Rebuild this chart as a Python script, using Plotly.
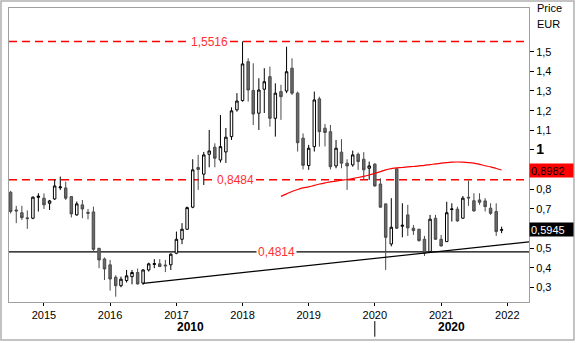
import plotly.graph_objects as go
import pandas as pd

# ---- data (monthly candles, EUR) ----
months = pd.date_range("2014-07-01", "2021-12-01", freq="MS")

opens = [0.785,0.695,0.681,0.655,0.653,0.759,0.755,0.729,0.751,0.808,0.807,0.763,
         0.670,0.721,0.683,0.685,0.500,0.446,0.416,0.353,0.310,0.336,0.356,0.377,
         0.323,0.390,0.418,0.421,0.415,0.416,0.475,0.546,0.597,0.709,0.911,0.877,
         0.978,1.014,0.949,0.990,1.068,1.204,1.251,1.449,1.303,1.187,1.309,1.373,
         1.161,1.297,1.300,1.416,1.289,1.060,0.921,1.017,1.260,1.111,1.093,0.919,
         0.989,0.933,0.924,0.978,0.953,0.907,0.928,0.827,0.726,0.522,0.904,0.612,
         0.670,0.602,0.597,0.546,0.483,0.653,0.546,0.534,0.697,0.699,0.653,0.760,
         0.742,0.746,0.741,0.704,0.687,0.592]
highs = [0.792,0.716,0.716,0.693,0.764,0.780,0.779,0.746,0.848,0.865,0.839,0.766,
         0.738,0.746,0.700,0.712,0.502,0.453,0.441,0.363,0.356,0.390,0.390,0.397,
         0.394,0.427,0.445,0.445,0.441,0.475,0.585,0.628,0.712,0.953,0.975,0.990,
         1.102,1.034,1.178,1.112,1.217,1.289,1.5516,1.466,1.441,1.365,1.416,1.424,
         1.339,1.331,1.525,1.466,1.297,1.084,1.026,1.297,1.271,1.132,1.127,1.051,
         1.055,0.953,0.997,0.987,0.989,0.941,0.933,0.856,0.726,0.755,0.907,0.729,
         0.721,0.619,0.599,0.563,0.670,0.670,0.568,0.737,0.729,0.712,0.766,0.844,
         0.780,0.780,0.755,0.729,0.729,0.610]
lows = [0.677,0.628,0.644,0.599,0.648,0.687,0.700,0.695,0.746,0.797,0.746,0.657,
        0.666,0.653,0.647,0.487,0.399,0.339,0.285,0.254,0.302,0.326,0.317,0.316,
        0.314,0.382,0.399,0.405,0.379,0.390,0.470,0.521,0.594,0.704,0.797,0.822,
        0.912,0.912,0.936,0.934,1.051,1.195,1.246,1.246,1.127,1.102,1.188,1.119,
        1.068,1.153,1.289,1.280,0.992,0.901,0.899,0.992,1.017,1.018,0.901,0.907,
        0.907,0.797,0.915,0.899,0.848,0.848,0.814,0.708,0.390,0.510,0.599,0.556,
        0.563,0.568,0.534,0.461,0.479,0.543,0.509,0.533,0.636,0.636,0.652,0.716,
        0.687,0.721,0.687,0.670,0.563,0.577]
closes = [0.687,0.690,0.656,0.651,0.760,0.765,0.721,0.741,0.817,0.812,0.755,0.675,
          0.726,0.700,0.678,0.495,0.441,0.395,0.344,0.310,0.343,0.360,0.377,0.319,
          0.390,0.421,0.422,0.407,0.411,0.470,0.546,0.597,0.707,0.899,0.901,0.975,
          0.995,0.958,1.017,1.065,1.199,1.249,1.4375,1.305,1.183,1.305,1.347,1.161,
          1.289,1.271,1.398,1.289,1.037,0.922,1.009,1.2545,1.093,1.089,0.915,1.009,
          0.933,0.919,0.975,0.941,0.899,0.919,0.817,0.709,0.556,0.607,0.602,0.617,
          0.604,0.590,0.539,0.475,0.648,0.546,0.512,0.681,0.700,0.639,0.755,0.756,
          0.690,0.734,0.712,0.678,0.585,0.5945]

# moving average (red curve)
ma_months = pd.date_range("2018-08-01", "2021-12-01", freq="MS")
ma_values = [0.764,0.777,0.789,0.799,0.807,0.812,0.820,0.827,0.8325,0.838,0.842,0.846,
             0.850,0.855,0.860,0.866,0.873,0.881,0.890,0.899,0.905,0.909,0.911,0.914,
             0.916,0.919,0.922,0.926,0.929,0.933,0.936,0.938,0.939,0.938,0.936,0.933,
             0.927,0.920,0.914,0.906,0.8982]

# support / resistance levels
red_levels = [1.5516, 0.8484]
black_level = 0.4814
trend_dates = ["2016-07-01", "2022-05-01"]
trend_values = [0.322, 0.533]
last_price = 0.5945
ma_last = 0.8982

y_ticks = [0.3,0.4,0.5,0.6,0.7,0.8,0.9,1.0,1.1,1.2,1.3,1.4,1.5]
x_years = [2015,2016,2017,2018,2019,2020,2021,2022]

def fmt(v):
    return ("%g" % v).replace(".", ",")

tick_text = []
for t in y_ticks:
    if abs(t - 1.0) < 1e-9:
        tick_text.append("<span style='font-size:14px'><b>1</b></span>")
    elif abs(t - 0.9) < 1e-9 or abs(t - 0.6) < 1e-9:
        tick_text.append("")
    else:
        tick_text.append(fmt(t))

FONT = "Liberation Sans, Arial, sans-serif"
RED = "#ff0000"

fig = go.Figure()
fig.add_trace(go.Candlestick(
    x=months, open=opens, high=highs, low=lows, close=closes,
    increasing=dict(line=dict(color="#000000", width=1), fillcolor="#ffffff"),
    decreasing=dict(line=dict(color="#4a4a4a", width=1), fillcolor="#6a6a6a"),
    whiskerwidth=0, showlegend=False, hoverinfo="skip"))

fig.add_trace(go.Scatter(x=ma_months, y=ma_values, mode="lines",
                         line=dict(color=RED, width=1.2, shape="spline"),
                         showlegend=False, hoverinfo="skip"))
fig.add_trace(go.Scatter(x=trend_dates, y=trend_values, mode="lines",
                         line=dict(color="#000000", width=1.2),
                         showlegend=False, hoverinfo="skip"))

shapes = []
for lv in red_levels:
    shapes.append(dict(type="line", xref="paper", x0=0, x1=1, yref="y", y0=lv, y1=lv,
                       line=dict(color=RED, width=1.4, dash="8px,5px"), layer="below"))
shapes.append(dict(type="line", xref="paper", x0=0, x1=1, yref="y", y0=black_level, y1=black_level,
                   line=dict(color="#000000", width=1.3), layer="below"))
# decade separator under the axis
shapes.append(dict(type="line", xref="x", x0="2020-01-01", x1="2020-01-01", yref="paper",
                   y0=-0.065, y1=-0.118, line=dict(color="#000000", width=1)))
# outer frame
shapes.append(dict(type="rect", xref="paper", yref="paper", x0=-0.0154, x1=1.0865,
                   y0=-0.129, y1=1.024, line=dict(color="#b0b0b0", width=1.5)))

annotations = []
label_x = ["2017-07-05", "2017-11-25", "2018-07-10"]
label_v = [red_levels[0], red_levels[1], black_level]
for lx, lv in zip(label_x, label_v):
    annotations.append(dict(x=lx, y=lv, xref="x", yref="y", text=fmt(lv), showarrow=False,
                            font=dict(family=FONT, size=12, color="#ff3030"),
                            bgcolor="#ffffff", borderpad=1))
annotations.append(dict(x=1, xref="paper", xanchor="left", y=ma_last, yref="y", text=fmt(ma_last),
                        showarrow=False, font=dict(family=FONT, size=11, color="#000000"),
                        bgcolor=RED, width=41, height=11, align="left", borderpad=1))
annotations.append(dict(x=1, xref="paper", xanchor="left", y=last_price, yref="y", text=fmt(last_price),
                        showarrow=False, font=dict(family=FONT, size=11, color="#ffffff"),
                        bgcolor="#000000", width=41, height=11, align="left", borderpad=1))
annotations.append(dict(x=1.0115, xref="paper", xanchor="left", y=1.0, yref="paper", yanchor="middle",
                        text="Price", showarrow=False, font=dict(family=FONT, size=11, color="#000000")))
annotations.append(dict(x=1.0115, xref="paper", xanchor="left", y=0.9455, yref="paper", yanchor="middle",
                        text="EUR", showarrow=False, font=dict(family=FONT, size=11, color="#000000")))
annotations.append(dict(x="2017-03-18", xref="x", y=-0.085, yref="paper", yanchor="middle",
                        text="<b>2010</b>", showarrow=False, font=dict(family=FONT, size=12, color="#000000")))
annotations.append(dict(x="2021-03-01", xref="x", y=-0.085, yref="paper", yanchor="middle",
                        text="<b>2020</b>", showarrow=False, font=dict(family=FONT, size=12, color="#000000")))

fig.update_layout(
    width=577, height=343,
    margin=dict(l=9, r=48, t=8, b=41),
    paper_bgcolor="#ffffff", plot_bgcolor="#ffffff",
    font=dict(family=FONT, size=11, color="#000000"),
    shapes=shapes, annotations=annotations,
    xaxis=dict(type="date", range=["2014-06-22", "2022-05-01"], rangeslider=dict(visible=False),
               tickvals=[f"{y}-01-01" for y in x_years], ticktext=[str(y) for y in x_years],
               ticks="outside", ticklen=3, tickcolor="#000000",
               showgrid=False, zeroline=False, showline=True, linecolor="#a0a0a0", linewidth=1,
               mirror=True, tickfont=dict(family=FONT, size=11)),
    yaxis=dict(side="right", range=[0.227, 1.722], tickvals=y_ticks, ticktext=tick_text,
               ticks="outside", ticklen=4, tickcolor="#000000",
               showgrid=False, zeroline=False, showline=True, linecolor="#a0a0a0", linewidth=1,
               mirror=True, tickfont=dict(family=FONT, size=11)),
    boxgap=0.3,
)

fig.write_html("out.html")
